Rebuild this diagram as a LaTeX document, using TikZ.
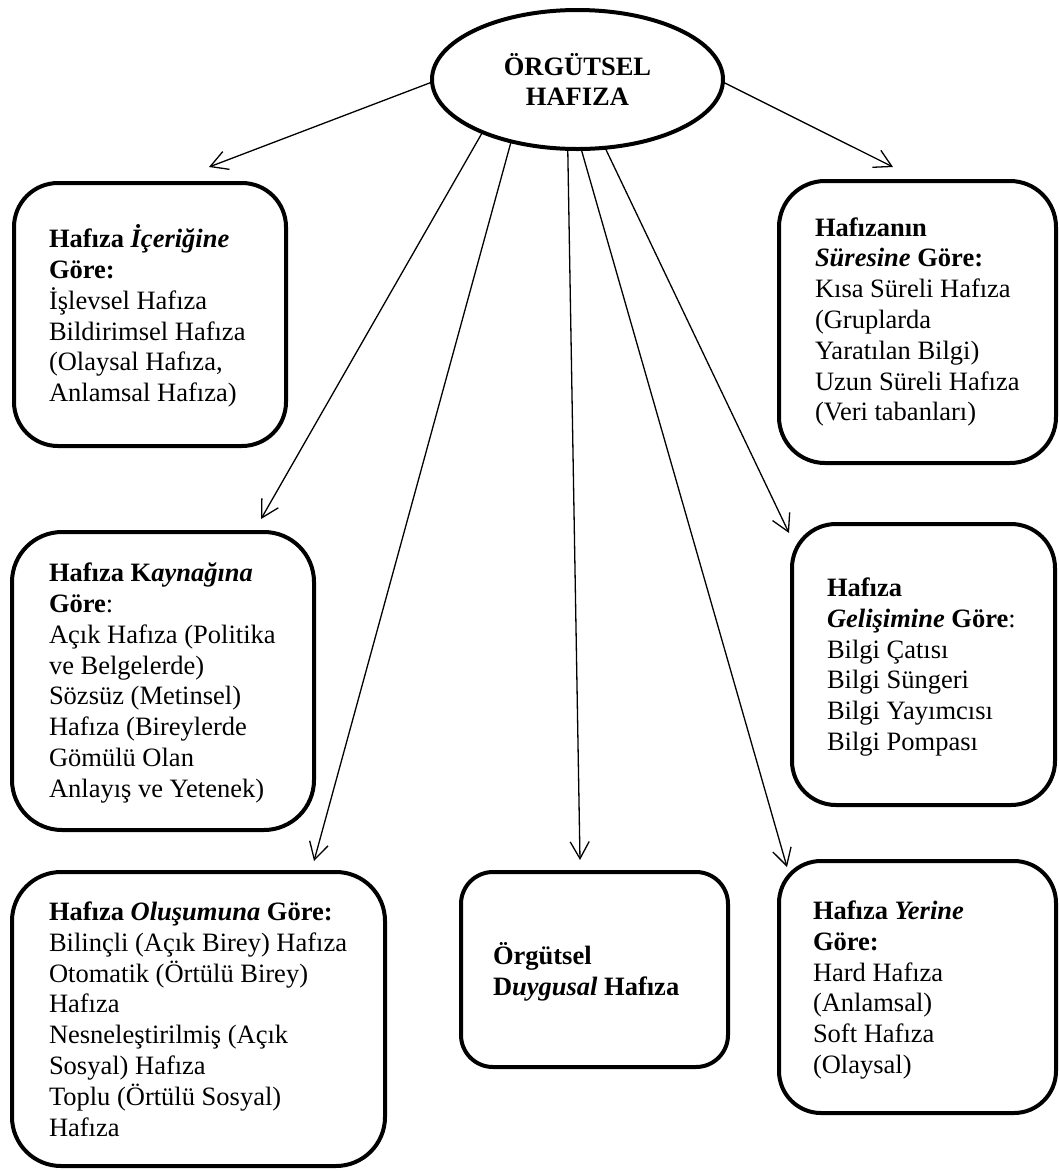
\documentclass[tikz,border=0pt]{standalone}
\usepackage{fontspec}
\setmainfont{Liberation Serif}
\usetikzlibrary{shapes.geometric,arrows.meta}
\pgfdeclarelayer{bg}
\pgfsetlayers{bg,main}
\tikzset{
    every node/.style={inner sep=0pt, outer sep=0pt, font=\fontsize{26.5}{30.8}\selectfont}
}
\tikzset{kutu/.style={draw, line width=4pt, rounded corners=#1}}
\tikzset{yazi/.style={anchor=west, align=left}}
\tikzset{ok/.style={line width=1.3pt, -{Straight Barb[length=17pt, width=19pt]}}}

\begin{document}
\begin{tikzpicture}[x=1pt, y=-1pt]
    \useasboundingbox (0, 0) rectangle (1059, 1171);

    \node (org) [ellipse, draw, line width=4pt, minimum width=291pt, minimum height=139pt, align=center, font=\fontsize{26.5}{30.8}\selectfont\bfseries] at (577.5, 79.5) {ÖRGÜTSEL\\HAFIZA};

    \node (icerik) [kutu=44pt, minimum width=272pt, minimum height=263pt] at (150, 314.5) {};
    \node (sure) [kutu=46pt, minimum width=277pt, minimum height=282pt] at (917.5, 322) {};
    \node (kaynak) [kutu=50pt, minimum width=302pt, minimum height=298pt] at (163, 681) {};
    \node (gelisim) [kutu=44pt, minimum width=263pt, minimum height=281pt] at (923.5, 664.5) {};
    \node (olusum) [kutu=49pt, minimum width=373pt, minimum height=294pt] at (198.5, 1019) {};
    \node (duygu) [kutu=32pt, minimum width=267pt, minimum height=195pt] at (594.5, 969.5) {};
    \node (yer) [kutu=42pt, minimum width=277pt, minimum height=252pt] at (917.5, 987) {};

    \node (icerikT) [yazi] at (49, 316) {\textbf{Hafıza \textit{İçeriğine}}\\\textbf{Göre:}\\İşlevsel Hafıza\\Bildirimsel Hafıza\\(Olaysal Hafıza,\\Anlamsal Hafıza)};
    \node (sureT) [yazi] at (815, 322) {\textbf{Hafızanın}\\\textbf{\textit{Süresine} Göre:}\\Kısa Süreli Hafıza\\(Gruplarda\\Yaratılan Bilgi)\\Uzun Süreli Hafıza\\(Veri tabanları)};
    \node (kaynakT) [yazi] at (49, 683) {\textbf{Hafıza K\textit{aynağına}}\\\textbf{Göre}:\\Açık Hafıza (Politika\\ve Belgelerde)\\Sözsüz (Metinsel)\\Hafıza (Bireylerde\\Gömülü Olan\\Anlayış ve Yetenek)};
    \node (gelisimT) [yazi] at (827, 667) {\textbf{Hafıza}\\\textbf{\textit{Gelişimine} Göre}:\\Bilgi Çatısı\\Bilgi Süngeri\\Bilgi Yayımcısı\\Bilgi Pompası};
    \node (olusumT) [yazi] at (49, 1019) {\textbf{Hafıza \textit{Oluşumuna} Göre:}\\Bilinçli (Açık Birey) Hafıza\\Otomatik (Örtülü Birey)\\Hafıza\\Nesneleştirilmiş (Açık\\Sosyal) Hafıza\\Toplu (Örtülü Sosyal)\\Hafıza};
    \node (duyguT) [yazi] at (493, 972) {\textbf{Örgütsel}\\\textbf{D\textit{uygusal} Hafıza}};
    \node (yerT) [yazi] at (813, 990) {\textbf{Hafıza \textit{Yerine}}\\\textbf{Göre:}\\Hard Hafıza\\(Anlamsal)\\Soft Hafıza\\(Olaysal)};

    \begin{pgfonlayer}{bg}
        \draw[ok] (org.181) -- ([xshift=59pt, yshift=16pt]icerik.north);
        \draw[ok] (org.359) -- ([xshift=-24.5pt, yshift=14pt]sure.north);
        \draw[ok] (org.209.6) -- ([xshift=98pt, yshift=13pt]kaynak.north);
        \draw[ok] (org.223.7) -- ([xshift=115.5pt, yshift=11pt]olusum.north);
        \draw[ok] (org.262) -- ([xshift=-14.5pt, yshift=12pt]duygu.north);
        \draw[ok] (org.273.5) -- ([xshift=8pt, yshift=-6pt]yer.north west);
        \draw[ok] (org.292.8) -- ([xshift=-3pt, yshift=-9pt]gelisim.north west);
    \end{pgfonlayer}
\end{tikzpicture}
\end{document}
